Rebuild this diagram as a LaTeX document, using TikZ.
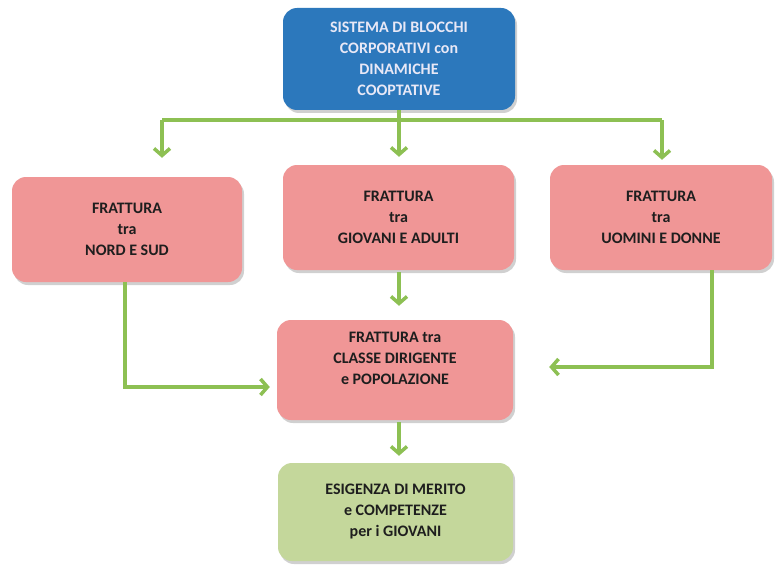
\documentclass[tikz,border=0pt]{standalone}
\usepackage{fontspec}
\setmainfont{Carlito}
\usetikzlibrary{shadows,arrows.meta}
\definecolor{topblue}{RGB}{44,120,188}
\definecolor{pinkbox}{RGB}{240,150,150}
\definecolor{greenbox}{RGB}{196,215,155}
\definecolor{arrgreen}{RGB}{141,192,83}
\definecolor{textdark}{RGB}{30,30,30}
\definecolor{toptext}{RGB}{232,232,246}
\tikzset{
  boxfont/.style={font=\fontsize{16}{21}\selectfont\bfseries},
  box/.style={rounded corners=14pt, align=center, inner sep=2pt, boxfont, text=textdark,
    drop shadow={shadow xshift=2pt,shadow yshift=-3pt,opacity=0.3,fill=black!60}},
  conn/.style={draw=arrgreen, line width=3.5pt},
  arr/.style={conn, -{Straight Barb[length=7pt,width=16pt,line width=3.5pt]}},
}
\begin{document}
\begin{tikzpicture}[x=1pt,y=-1pt]
\useasboundingbox (0,0) rectangle (778,567);
\fill[white] (0,0) rectangle (778,567);
% boxes
\node[box, fill=topblue, text=toptext, minimum width=232pt, minimum height=102pt] (top) at (399,59)
  {SISTEMA DI BLOCCHI\\CORPORATIVI con\\DINAMICHE\\COOPTATIVE};
\node[box, fill=pinkbox, minimum width=230pt, minimum height=105pt] (L) at (127,229.5)
  {FRATTURA\\tra\\NORD E SUD};
\node[box, fill=pinkbox, minimum width=231pt, minimum height=105pt] (M) at (398.5,217.5)
  {FRATTURA\\tra\\GIOVANI E ADULTI};
\node[box, fill=pinkbox, minimum width=222pt, minimum height=105pt] (R) at (661,217.5)
  {FRATTURA\\tra\\UOMINI E DONNE};
\node[box, fill=pinkbox, minimum width=236pt, minimum height=100pt] (C) at (395,370) {};
\node[boxfont, text=textdark, align=center, inner sep=0pt] (Ctext) at (395,358)
  {FRATTURA tra\\CLASSE DIRIGENTE\\e POPOLAZIONE};
\node[box, fill=greenbox, minimum width=235pt, minimum height=98pt] (B) at (395.5,512)
  {ESIGENZA DI MERITO\\e COMPETENZE\\per i GIOVANI};
% connectors
\coordinate (bl) at (162,120);
\coordinate (br) at (662,120);
\draw[conn] (bl) -- (br);
\draw[arr, shorten >=8pt] (top.south) -- (top.south |- M.north);
\draw[arr, shorten >=19pt] (bl) -- (bl |- L.north);
\draw[arr, shorten >=5pt] (br) -- (br |- R.north);
\draw[arr, shorten <=2pt, shorten >=14pt] (top.south |- M.south) -- (top.south |- C.north);
\coordinate (lc) at (125,387);
\draw[arr, shorten >=7pt] (L.south -| lc) -- (lc) -- (lc -| C.west);
\coordinate (rc) at (712,367);
\draw[arr, shorten >=36pt] (R.south -| rc) -- (rc) -- (rc -| C.east);
\draw[arr, shorten <=2pt, shorten >=7pt] (top.south |- C.south) -- (top.south |- B.north);
\end{tikzpicture}
\end{document}
